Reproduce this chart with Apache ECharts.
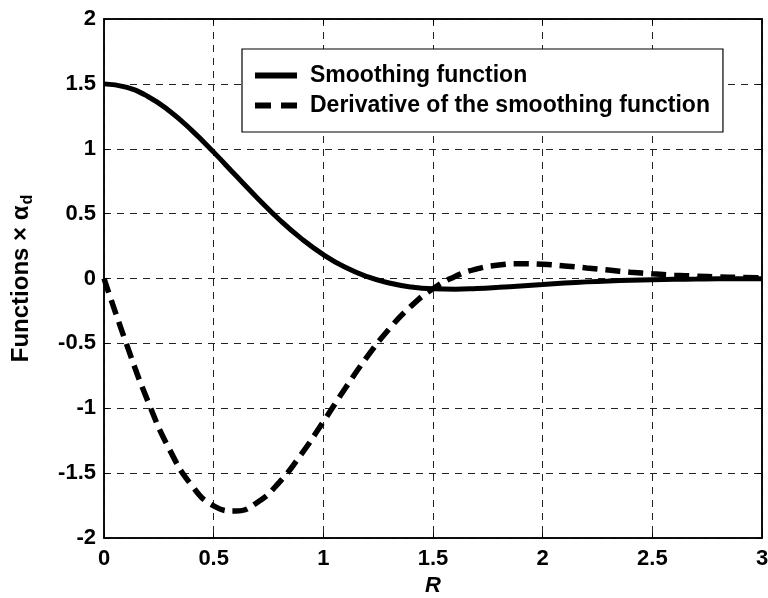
<!DOCTYPE html>
<html>
<head>
<meta charset="utf-8">
<script src="https://cdn.jsdelivr.net/npm/echarts@6/dist/echarts.min.js"></script>
<style>
  html, body { margin: 0; padding: 0; background: #fff; }
  #chart { width: 768px; height: 598px; }
</style>
</head>
<body>
<div id="chart"></div>
<script>
// Normalised distance R
const rValues = [0, 0.1, 0.2, 0.3, 0.4, 0.5, 0.6, 0.7, 0.8, 0.9, 1.0,
  1.1, 1.2, 1.3, 1.4, 1.5, 1.6, 1.7, 1.8, 1.9, 2.0,
  2.1, 2.2, 2.3, 2.4, 2.5, 2.6, 2.7, 2.8, 2.9, 3.0];

// Smoothing function (scaled by alpha_d)
const smoothingValues = [1.5, 1.475, 1.403, 1.289, 1.142, 0.974, 0.795, 0.619, 0.453, 0.307, 0.184,
  0.086, 0.014, -0.035, -0.065, -0.079, -0.082, -0.077, -0.068, -0.057, -0.046,
  -0.035, -0.026, -0.019, -0.013, -0.009, -0.006, -0.004, -0.002, -0.002, -0.001];

// Its derivative with respect to R (scaled by alpha_d)
const derivativeValues = [0, -0.493, -0.945, -1.322, -1.595, -1.752, -1.792, -1.724, -1.569, -1.353, -1.104,
  -0.846, -0.603, -0.389, -0.213, -0.079, 0.015, 0.074, 0.104, 0.114, 0.110,
  0.097, 0.081, 0.065, 0.049, 0.036, 0.026, 0.018, 0.012, 0.008, 0.005];

const seriesNames = ['Smoothing function', 'Derivative of the smoothing function'];
const xTitle = 'R';
const yTitle = 'Functions × α';
const ySub = 'd';

const FONT = '"Liberation Sans", Arial, Helvetica, sans-serif';

const pairs = (ys) => rValues.map((r, i) => [r, ys[i]]);

// Legend keys: a solid bar and a pair of dashes
const solidKey = 'path://M0,0h42v6h-42z';
const dashedKey = 'path://M0,0h16v6h-16z M26,0h16v6h-16z';

const gridDash = { color: '#222', width: 1, type: [7, 6] };
const tickLabel = { color: '#000', fontFamily: FONT, fontWeight: 'bold', fontSize: 22 };
const frameLine = { show: true, onZero: false, lineStyle: { color: '#000', width: 1.5 } };
const innerTick = { show: true, inside: true, length: 5, lineStyle: { color: '#000' } };

const chart = echarts.init(document.getElementById('chart'), null, { renderer: 'canvas' });

chart.setOption({
  animation: false,
  backgroundColor: '#fff',
  grid: {
    left: 104, right: 6, top: 19, bottom: 60,
    containLabel: false, outerBoundsMode: 'none',
    show: true, borderColor: '#000', borderWidth: 1.5, backgroundColor: 'transparent'
  },
  legend: {
    left: 242, top: 49,
    orient: 'vertical',
    data: [
      { name: seriesNames[0], icon: solidKey },
      { name: seriesNames[1], icon: dashedKey }
    ],
    itemWidth: 42, itemHeight: 6, itemGap: 7,
    padding: [15, 13, 15, 13],
    backgroundColor: '#fff',
    borderColor: '#000', borderWidth: 1.2,
    itemStyle: { color: '#000', borderWidth: 0 },
    lineStyle: { width: 0 },
    textStyle: { color: '#000', fontFamily: FONT, fontWeight: 'bold', fontSize: 23, height: 22, padding: [0, 0, 0, 8] }
  },
  xAxis: [{
    type: 'value', min: 0, max: 3, interval: 0.5,
    name: xTitle, nameLocation: 'middle', nameGap: 27,
    nameTextStyle: { color: '#000', fontFamily: FONT, fontWeight: 'bold', fontStyle: 'italic', fontSize: 22 },
    axisLine: frameLine,
    axisTick: innerTick,
    axisLabel: Object.assign({ margin: 10 }, tickLabel),
    splitLine: { show: true, lineStyle: gridDash }
  }, {
    type: 'value', min: 0, max: 3, interval: 0.5, position: 'top',
    axisLine: frameLine,
    axisTick: innerTick,
    axisLabel: { show: false }, splitLine: { show: false }
  }],
  yAxis: [{
    type: 'value', min: -2, max: 2, interval: 0.5,
    name: yTitle + '{sub|' + ySub + '}', nameLocation: 'middle', nameGap: 68,
    nameTextStyle: {
      color: '#000', fontFamily: FONT, fontWeight: 'bold', fontSize: 24, lineHeight: 30,
      rich: { sub: { fontFamily: FONT, fontWeight: 'bold', fontSize: 16, verticalAlign: 'bottom', lineHeight: 22, padding: [10, 0, 0, 1] } }
    },
    axisLine: frameLine,
    axisTick: innerTick,
    axisLabel: Object.assign({ margin: 8 }, tickLabel),
    splitLine: { show: true, lineStyle: gridDash }
  }, {
    type: 'value', min: -2, max: 2, interval: 0.5, position: 'right',
    axisLine: frameLine,
    axisTick: innerTick,
    axisLabel: { show: false }, splitLine: { show: false }
  }],
  series: [{
    name: seriesNames[0], type: 'line', smooth: true, showSymbol: false, symbol: 'none',
    data: pairs(smoothingValues),
    color: '#000',
    lineStyle: { color: '#000', width: 5 }
  }, {
    name: seriesNames[1], type: 'line', smooth: true, showSymbol: false, symbol: 'none',
    data: pairs(derivativeValues),
    color: '#000',
    lineStyle: { color: '#000', width: 5.5, type: [15, 8] }
  }]
});
</script>
</body>
</html>
